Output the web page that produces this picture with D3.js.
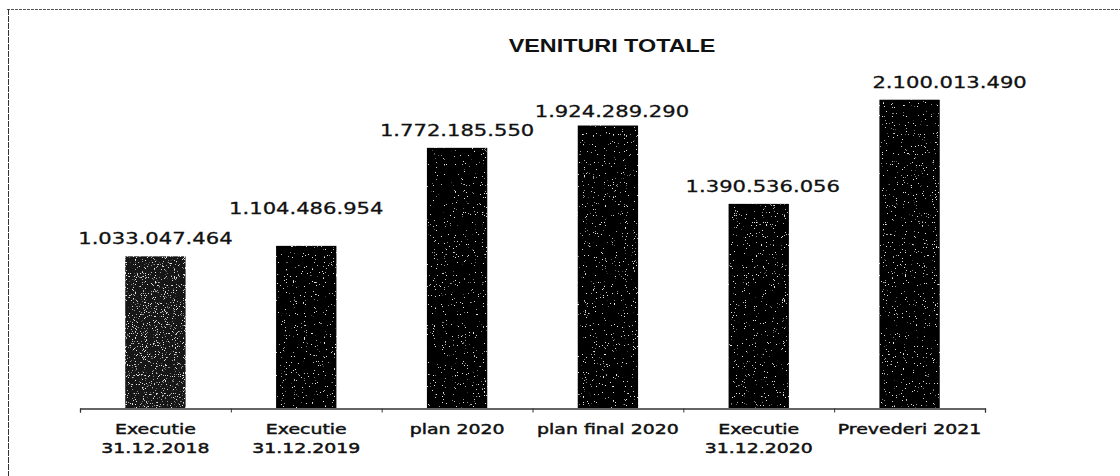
<!DOCTYPE html>
<html>
<head>
<meta charset="utf-8">
<script src="https://cdn.jsdelivr.net/npm/d3@7"></script>
<style>
  body { margin: 0; background: #fff; }
  svg { display: block; }
  .val { font-family: "DejaVu Sans", Verdana, sans-serif; font-size: 16px; fill: #111; stroke: #111; stroke-width: 0.3px; }
  .cat { font-family: "DejaVu Sans", Verdana, sans-serif; font-size: 14px; fill: #111; stroke: #111; stroke-width: 0.45px; }
  .title { font-family: "Liberation Sans", Arial, sans-serif; font-size: 19px; font-weight: bold; fill: #111; }
</style>
</head>
<body>
<div id="chart"></div>
<script>
// chart data
const title = 'VENITURI TOTALE';
const categories = [
    'Executie\n31.12.2018',
    'Executie\n31.12.2019',
    'plan 2020',
    'plan  final 2020',
    'Executie\n31.12.2020',
    'Prevederi 2021'
];
const values = [1033047464, 1104486954, 1772185550, 1924289290, 1390536056, 2100013490];

// manual label nudges (the labels were dragged around in the original)
const labelLiftY = [0, 20, 0, -3, 0, 0];
const labelShiftX = [0, 0, 0, 4, 4, 40];

const W = 1120, H = 476;
const margin = { left: 80, right: 135, top: 41, bottom: 68 };
const baseY = H - margin.bottom;

// thousands separated with dots, like the source
const ro = d3.formatLocale({ decimal: ',', thousands: '.', grouping: [3], currency: ['', ' lei'] });
const fmt = ro.format(',');

const svg = d3.select('#chart')
    .append('svg')
    .attr('width', W)
    .attr('height', H);

// scanned look: light specks inside the dark bars
const defs = svg.append('defs');
function addGrain(id, seed, matrixRow) {
    const f = defs.append('filter')
        .attr('id', id)
        .attr('x', 0).attr('y', 0).attr('width', 1).attr('height', 1);
    f.append('feTurbulence')
        .attr('type', 'fractalNoise')
        .attr('baseFrequency', 0.9)
        .attr('numOctaves', 2)
        .attr('seed', seed)
        .attr('result', 'noise');
    f.append('feColorMatrix')
        .attr('in', 'noise')
        .attr('type', 'matrix')
        .attr('values', '0 0 0 0 0.8  0 0 0 0 0.8  0 0 0 0 0.8  ' + matrixRow)
        .attr('result', 'dots');
    f.append('feComposite')
        .attr('in', 'dots')
        .attr('in2', 'SourceGraphic')
        .attr('operator', 'atop');
}
addGrain('grain', 4, '20 0 0 0 -14.2');
addGrain('grainHeavy', 7, '12 0 0 0 -7.6');

// frame (only top and left edges survive in the scan)
svg.append('line')
    .attr('x1', 7).attr('x2', W).attr('y1', 9.5).attr('y2', 9.5)
    .attr('stroke', '#555').attr('stroke-dasharray', '3,1');
svg.append('line')
    .attr('x1', 8.5).attr('x2', 8.5).attr('y1', 9).attr('y2', H)
    .attr('stroke', '#333').attr('stroke-dasharray', '6,1');

// scales
const x = d3.scaleBand()
    .domain(d3.range(categories.length))
    .range([margin.left, W - margin.right])
    .paddingInner(0.6)
    .paddingOuter(0.3);

const y = d3.scaleLinear()
    .domain([0, 2.5e9])
    .range([baseY, margin.top]);

// stretched text helper (scan is wider than tall)
function stretchText(g, tx, ty, str, cls, sx) {
    return g.append('text')
        .attr('class', cls)
        .attr('text-anchor', 'middle')
        .attr('transform', `translate(${tx},${ty}) scale(${sx},1)`)
        .text(str);
}

// title
stretchText(svg, 612, 52, title, 'title', 1.23);

// bars
svg.selectAll('.bar')
    .data(values)
    .enter()
    .append('rect')
    .attr('class', 'bar')
    .attr('x', (d, i) => x(i))
    .attr('y', d => y(d))
    .attr('width', x.bandwidth())
    .attr('height', d => baseY - y(d))
    .attr('fill', (d, i) => i === 0 ? '#151515' : '#050505')
    .attr('filter', (d, i) => i === 0 ? 'url(#grainHeavy)' : 'url(#grain)');

// x axis: ticks sit between categories
const step = x.step();
const edge = d3.scaleLinear()
    .domain([0, categories.length])
    .range([margin.left, margin.left + step * categories.length]);

const axis = svg.append('g')
    .attr('transform', `translate(0,${baseY + 0.5})`)
    .call(d3.axisBottom(edge).ticks(categories.length).tickSize(4).tickSizeOuter(4).tickFormat(''));
axis.select('.domain').attr('stroke', '#333').attr('stroke-width', 1.3);
axis.selectAll('.tick line').attr('stroke', '#333');

// value labels
values.forEach((v, i) => {
    const cx = x(i) + x.bandwidth() / 2 + labelShiftX[i];
    const ty = y(v) - 12 - labelLiftY[i];
    stretchText(svg, cx, ty, fmt(v), 'val', 1.32);
});

// category labels
categories.forEach((c, i) => {
    const cx = x(i) + x.bandwidth() / 2;
    c.split('\n').forEach((line, k) => {
        stretchText(svg, cx, baseY + 26 + k * 19, line, 'cat', 1.35);
    });
});
</script>
</body>
</html>
